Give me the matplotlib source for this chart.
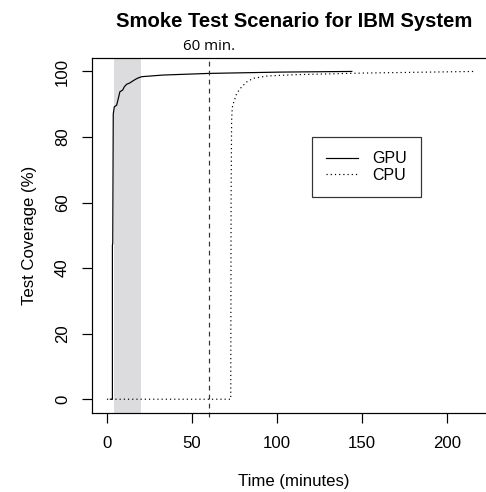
import matplotlib.pyplot as plt

# GPU-Kurve (Minuten, Abdeckung in %)
gpu_time = [2.0, 3.2, 3.2, 3.4, 3.7, 4.3, 5.7, 6.7, 7.6, 9.2, 10.2, 11.6, 13.5, 15.5, 17.8, 20.4, 33, 60, 102, 144]
gpu_cov = [0, 0, 47, 47.5, 87.0, 89.2, 89.7, 91.8, 93.8, 94.3, 95.3, 96.1, 96.5, 97.2, 97.9, 98.4, 98.9, 99.4, 99.8, 100]

# CPU-Kurve
cpu_time = [0, 72.8, 73.0, 73.3, 73.7, 74.3, 76.3, 79.2, 82.2, 86, 94, 110, 150, 216]
cpu_cov = [0, 0, 60, 85, 89.0, 90.2, 93.3, 95.3, 96.8, 97.9, 98.6, 99.0, 99.5, 100]

shade_start, shade_end = 4, 20
cutoff = 60

plt.rcParams['font.family'] = ['Liberation Sans', 'DejaVu Sans']
fig = plt.figure(figsize=(486 / 72, 492 / 72), dpi=72)
ax = fig.add_axes([92 / 486, (492 - 413) / 492, (496 - 92) / 486, (413 - 58) / 492])

ax.axvspan(shade_start, shade_end, color='#dcdcde', lw=0, zorder=0)
ax.plot(gpu_time, gpu_cov, color='black', lw=1.2, label='GPU')
ax.plot(cpu_time, cpu_cov, color='black', lw=1.2, linestyle=(0, (1, 2.5)), label='CPU')
ax.axvline(cutoff, ymin=-0.012, ymax=1, color='#333333', lw=1.2, linestyle=(0, (4, 3.5)), clip_on=False)
ax.text(cutoff, 105.2, '60 min.', ha='center', va='bottom', fontsize=15, family='Open Sans')

ax.set_xlim(-8.8, 228.8)
ax.set_ylim(-4.2, 104.1)
ax.set_xticks([0, 50, 100, 150, 200])
ax.set_yticks([0, 20, 40, 60, 80, 100])
ax.tick_params(direction='out', length=10, width=1.2, labelsize=16.8)
ax.tick_params(axis='x', pad=13)
ax.tick_params(axis='y', pad=12)
for lbl in ax.get_yticklabels():
    lbl.set_rotation(90)
    lbl.set_va('center')
for s in ax.spines.values():
    s.set_linewidth(1.2)

ax.set_xlabel('Time (minutes)', fontsize=16.8, labelpad=23)
ax.set_ylabel('Test Coverage (%)', fontsize=16.8, labelpad=18)
ax.set_title('Smoke Test Scenario for IBM System', fontsize=20.2, fontweight='bold', pad=31)

leg = ax.legend(loc='upper left', bbox_to_anchor=((312 - 92) / 404, (413 - 137) / 355),
                fontsize=16, frameon=True, fancybox=False, edgecolor='black',
                handlelength=1.95, handletextpad=0.9, borderpad=0.9, labelspacing=0.1,
                borderaxespad=0)
leg.get_frame().set_linewidth(1.2)

fig.savefig('out.png', dpi=72)
